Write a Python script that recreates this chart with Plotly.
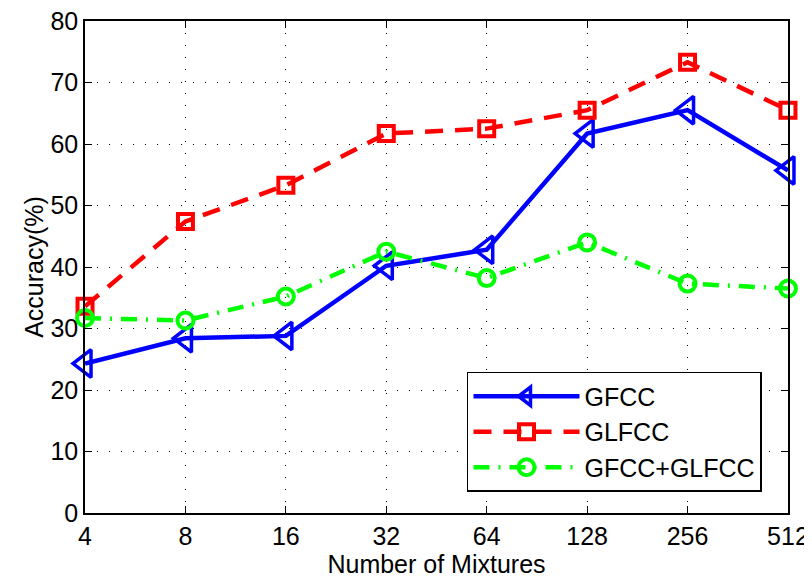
import math
import plotly.graph_objects as go

mixtures = [4, 8, 16, 32, 64, 128, 256, 512]
tick_labels = ["4", "8", "16", "32", "64", "128", "256", "512"]
gfcc = [24.3, 28.4, 28.8, 40.2, 42.8, 61.7, 65.5, 55.7]
glfcc = [33.6, 47.4, 53.3, 61.7, 62.5, 65.5, 73.3, 65.5]
combined = [31.7, 31.3, 35.2, 42.5, 38.2, 44.0, 37.3, 36.5]

FONT = "Liberation Sans, Arial, sans-serif"
FS = 25

fig = go.Figure()
fig.add_trace(go.Scatter(
    x=mixtures, y=gfcc, name="GFCC", mode="lines+markers",
    line=dict(color="#0000FF", width=4.5),
    marker=dict(symbol="triangle-left-open", size=24, color="#0000FF", line=dict(width=3.5, color="#0000FF")),
    cliponaxis=False))
fig.add_trace(go.Scatter(
    x=mixtures, y=glfcc, name="GLFCC", mode="lines+markers",
    line=dict(color="#FF0000", width=4.5, dash="18px,12px"),
    marker=dict(symbol="square-open", size=15, color="#FF0000", line=dict(width=4, color="#FF0000")),
    cliponaxis=False))
fig.add_trace(go.Scatter(
    x=mixtures, y=combined, name="GFCC+GLFCC", mode="lines+markers",
    line=dict(color="#00FF00", width=4.5, dash="16px,9px,2px,9px"),
    marker=dict(symbol="circle-open", size=16, color="#00FF00", line=dict(width=4, color="#00FF00")),
    cliponaxis=False))

axis_common = dict(
    showline=True, linecolor="black", linewidth=1.5, mirror="ticks",
    ticks="inside", ticklen=7, tickwidth=1.2, tickcolor="black",
    showgrid=True, gridcolor="black", gridwidth=1, griddash="1px,11px",
    zeroline=False, automargin=False, ticklabeloverflow="allow",
    tickfont=dict(family=FONT, size=FS, color="black"),
)

lo = math.log10(4) - 1e-4
hi = math.log10(512) + 1e-4
fig.update_xaxes(type="log", range=[lo, hi], tickvals=mixtures, ticktext=tick_labels,
                 title=dict(text="Number of Mixtures", font=dict(family=FONT, size=FS, color="black"), standoff=0),
                 **axis_common)
fig.update_yaxes(range=[0, 80], tickvals=[0, 10, 20, 30, 40, 50, 60, 70, 80],
                 title=dict(text="Accuracy(%)", font=dict(family=FONT, size=FS, color="black"), standoff=0),
                 **axis_common)

# page body has an 8px margin, so the figure is sized/positioned to compensate
fig.update_layout(
    width=804, height=572,
    margin=dict(l=77, r=24, t=13, b=67),
    plot_bgcolor="white", paper_bgcolor="white",
    font=dict(family=FONT, size=FS, color="black"),
    legend=dict(x=0.963, xanchor="right", y=0.2866, yanchor="top",
                bgcolor="white", bordercolor="black", borderwidth=1.5,
                font=dict(family=FONT, size=FS, color="black"),
                itemwidth=106, tracegroupgap=0),
    showlegend=True,
)

fig.write_html("out.html")
